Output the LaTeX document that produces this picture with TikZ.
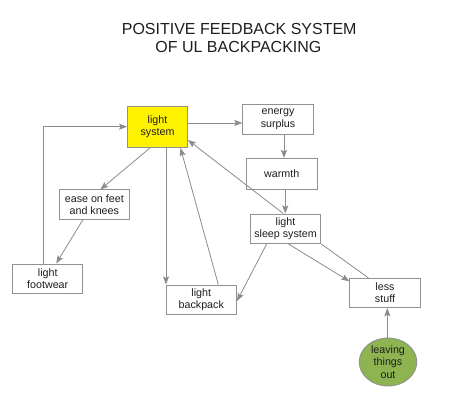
\documentclass[tikz,border=0pt]{standalone}
\usepackage{fontspec}
\setmainfont{Liberation Sans}
\usetikzlibrary{arrows.meta,shapes.geometric}
\definecolor{boxline}{RGB}{145,145,145}
\definecolor{arrline}{RGB}{140,140,140}
\definecolor{txt}{RGB}{30,30,30}
\definecolor{leafgreen}{RGB}{141,180,80}
\tikzset{
  box/.style={draw=boxline,line width=0.9pt,fill=white,inner sep=0pt,
    minimum width=70.5pt,minimum height=29.5pt,align=center,text=txt,
    font=\fontsize{10.7pt}{12.3pt}\selectfont},
  conn/.style={draw=arrline,line width=0.8pt,-{Stealth[length=8pt,width=6pt,inset=1.5pt]}},
  plain/.style={draw=arrline,line width=0.8pt},
  ttl/.style={font=\fontsize{16pt}{18pt}\selectfont,text=txt,inner sep=0pt,anchor=base}
}
\begin{document}
\begin{tikzpicture}[x=1pt,y=-1pt]
\fill[white] (0,0) rectangle (450,401);
\useasboundingbox (0,0) rectangle (450,401);
\node[ttl] (t1) at (239.2,35) {POSITIVE FEEDBACK SYSTEM};
\node[ttl] (t2) at (238.4,52.7) {OF UL BACKPACKING};

\node[box,fill=yellow,minimum width=60pt,minimum height=41pt] (ls) at (157.5,127) {light\\system};
\node[box] (es) at (278,119.3) {energy\\surplus};
\node[box,minimum height=30.7pt] (wa) at (281.7,173.7) {warmth};
\node[box] (ss) at (285.5,228.7) {light\\sleep system};
\node[box,minimum width=70pt] (ease) at (94.3,204.7) {ease on feet\\and knees};
\node[box,minimum width=70pt] (fw) at (47.7,278.7) {light\\footwear};
\node[box] (bp) at (201.3,299.7) {light\\backpack};
\node[box] (lsf) at (385,293) {less\\stuff};
\node[ellipse,draw=boxline,line width=0.9pt,fill=leafgreen,inner sep=0pt,
  minimum width=57.5pt,minimum height=48pt,align=center,text=txt,
  font=\fontsize{10.7pt}{12.3pt}\selectfont] (lo) at (388,362) {leaving\\things\\out};

\draw[conn] ([yshift=4pt]ls.east) -- ([yshift=4pt]ls.east -| es.west);
\draw[conn] ([xshift=6pt]es.south) -- ([xshift=6pt]es.south |- wa.north);
\draw[conn] ([xshift=3.6pt]wa.south) -- ([xshift=3.6pt]wa.south |- ss.north);
\draw[conn] ([xshift=-2.2pt]ss.north) -- ([yshift=-13pt]ls.east);
\draw[conn] ([xshift=17pt]bp.north) -- ([xshift=23pt]ls.south);
\draw[conn] ([xshift=8.5pt]ls.south) -- ([xshift=8.5pt]ls.south |- bp.north);
\draw[conn] ([xshift=-7.5pt]ls.south) -- ([xshift=6pt]ease.north);
\draw[conn] ([xshift=-11.5pt]ease.south) -- ([xshift=8.5pt]fw.north);
\draw[conn] ([xshift=-4.5pt]fw.north) |- ([yshift=0.3pt]ls.west);
\draw[conn] ([xshift=-18.8pt]ss.south) -- ([yshift=-1.3pt]bp.east);
\draw[conn] ([xshift=2.8pt]ss.south) -- ([yshift=-3.4pt]lsf.north west);
\draw[plain] ([xshift=-16.7pt]lsf.north) -- (ss.south east);
\draw[conn] ([xshift=-0.7pt]lo.north) -- ([xshift=-0.7pt]lo.north |- lsf.south);
\end{tikzpicture}
\end{document}
